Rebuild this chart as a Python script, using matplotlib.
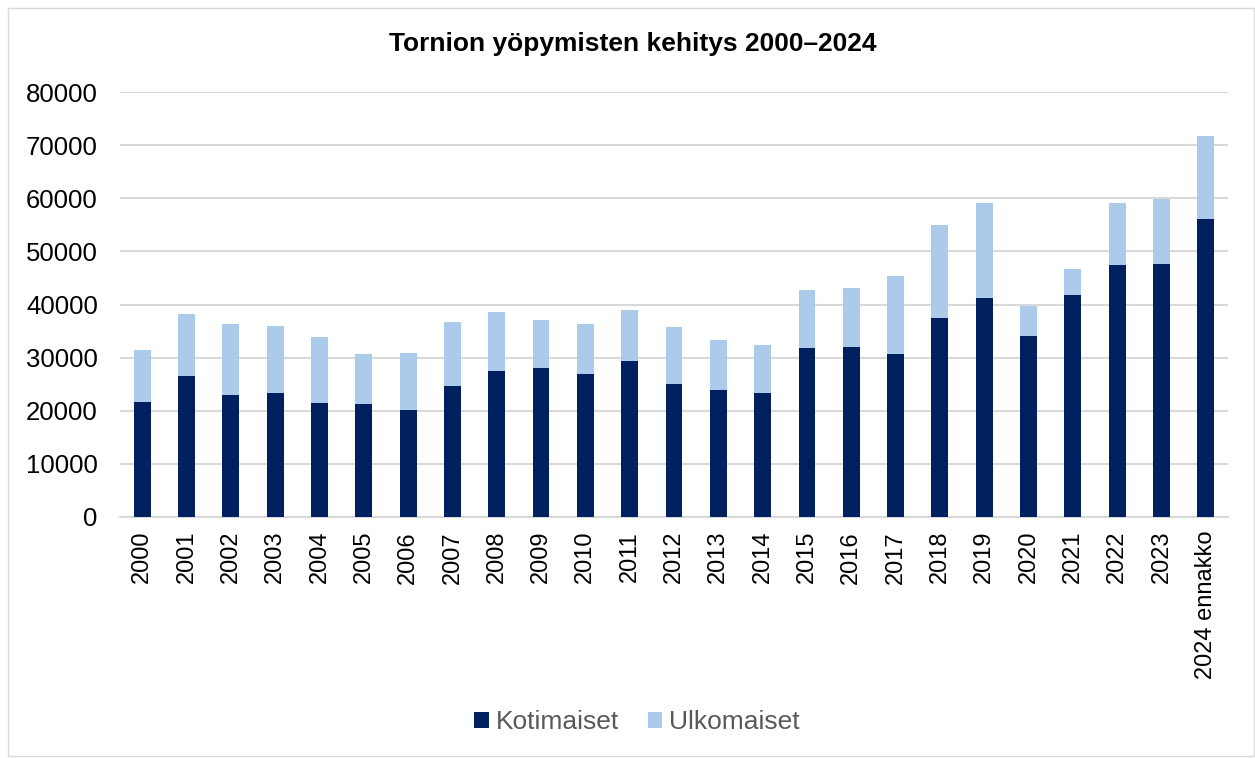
import numpy as np
import matplotlib
matplotlib.use('Agg')
import matplotlib.pyplot as plt
from matplotlib.patches import Rectangle

plt.rcParams['font.family'] = ['Liberation Sans', 'DejaVu Sans']

# vuodet ja yöpymiset
vuodet = ['2000', '2001', '2002', '2003', '2004', '2005', '2006', '2007', '2008',
          '2009', '2010', '2011', '2012', '2013', '2014', '2015', '2016', '2017',
          '2018', '2019', '2020', '2021', '2022', '2023', '2024 ennakko']
kotimaiset = [21600, 26600, 23000, 23250, 21450, 21250, 20150, 24650, 27450,
              28100, 26900, 29300, 25000, 23950, 23350, 31800, 31950, 30650,
              37450, 41200, 34100, 41800, 47350, 47600, 56100]
yhteensa = [31350, 38200, 36400, 35900, 33800, 30700, 30800, 36750, 38600,
            37050, 36400, 38900, 35700, 33350, 32350, 42800, 43150, 45300,
            55000, 59200, 39700, 46600, 59050, 59800, 71800]
ulkomaiset = [t - k for t, k in zip(yhteensa, kotimaiset)]

tumma = '#002060'
vaalea = '#ACCAEA'

fig = plt.figure(figsize=(12.55, 7.58), dpi=100)
ax = fig.add_axes([120/1255, 1 - 517/758, (1228-120)/1255, (517-92)/758])

x = np.arange(len(vuodet))
ax.bar(x, kotimaiset, width=0.38, color=tumma, label='Kotimaiset', zorder=3)
ax.bar(x, ulkomaiset, width=0.38, bottom=kotimaiset, color=vaalea,
       label='Ulkomaiset', zorder=3)

ax.set_xlim(-0.5, len(vuodet) - 0.5)
ax.set_ylim(0, 80000)
ax.set_yticks(range(0, 80001, 10000))
ax.yaxis.grid(True, color='#D9D9D9', linewidth=1.5, zorder=0)
for s in ['top', 'right', 'left']:
    ax.spines[s].set_visible(False)
ax.spines['bottom'].set_color('#D9D9D9')
ax.spines['bottom'].set_linewidth(1.5)
ax.set_xticks(x)
ax.set_xticklabels(vuodet, rotation=90, fontsize=17)
ax.tick_params(axis='y', length=0, labelsize=18.5, pad=16)
ax.tick_params(axis='x', length=0, pad=10)

fig.text(0.504, 1 - 44/758, 'Tornion yöpymisten kehitys 2000–2024',
         ha='center', va='center', fontsize=19, fontweight='bold')

leg = fig.legend(loc='center', bbox_to_anchor=(637/1255, 1 - 722/758), ncol=2,
                 frameon=False, fontsize=19, handlelength=0.55, handleheight=0.55,
                 handletextpad=0.25, columnspacing=1.1)
for t in leg.get_texts():
    t.set_color('#595959')

fig.patches.append(Rectangle((8/1255, 2/758), 1 - 9/1255, 1 - 10/758,
                             transform=fig.transFigure, fill=False,
                             edgecolor='#D9D9D9', linewidth=1))

fig.savefig('out.png', dpi=100)
